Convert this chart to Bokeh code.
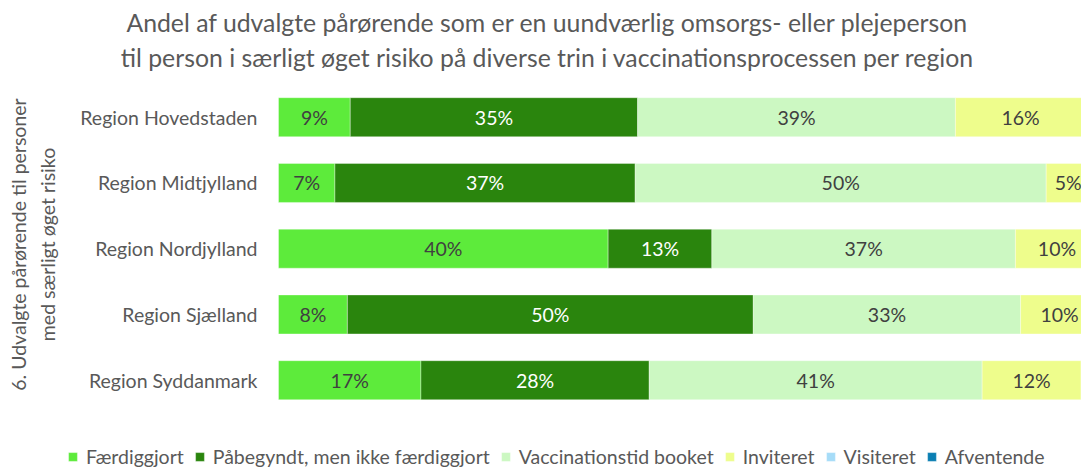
import numpy as np
from bokeh.plotting import figure
from bokeh.models import ColumnDataSource, Range1d, Label, Legend, LegendItem
from bokeh.core.properties import value
from bokeh.embed import file_html
from bokeh.resources import INLINE

regions = ["Region Hovedstaden", "Region Midtjylland", "Region Nordjylland",
           "Region Sjælland", "Region Syddanmark"]
stages = ["Færdiggjort", "Påbegyndt, men ikke færdiggjort", "Vaccinationstid booket",
          "Inviteret", "Visiteret", "Afventende"]
faerdiggjort = [8.75, 6.88, 40.2, 8.4, 17.37]
paabegyndt = [35.05, 36.62, 12.65, 49.5, 27.84]
booket = [38.75, 50.12, 37.02, 32.6, 40.6]
inviteret = [15.9, 5.37, 10.13, 9.5, 12.07]
visiteret = [1.2, 0.8, 0.0, 0.0, 1.7]
afventende = [0.35, 0.21, 0.0, 0.0, 0.42]

title_lines = ["Andel af udvalgte pårørende som er en uundværlig omsorgs- eller plejeperson",
               "til person i særligt øget risiko på diverse trin i vaccinationsprocessen per region"]
ylab = ["6. Udvalgte pårørende til personer", "med særligt øget risiko"]

series = [faerdiggjort, paabegyndt, booket, inviteret, visiteret, afventende]
colors = ["#5DEB3B", "#2A850D", "#CCF8C2", "#EEFD8C", "#A6DCF8", "#0B7FB3"]
label_colors = ["#404040", "#FFFFFF", "#404040", "#404040", "#404040", "#FFFFFF"]
keys = ["s0", "s1", "s2", "s3", "s4", "s5"]

FONT = "Lato"
TXT = "#595959"

W, H = 1081, 468
X0 = 278.0        # pixel of 0 %
PX_PER_PCT = 8.2
ROW0 = 116.7      # pixel centre of first row
ROW_STEP = 65.75
n = len(regions)

ypos = [n - 1 - i for i in range(n)]
y_top = (n - 1) + ROW0 / ROW_STEP
y_bot = (n - 1) - (H - ROW0) / ROW_STEP

data = {"y": ypos, "region": regions}
for k, s in zip(keys, series):
    data[k] = s
src = ColumnDataSource(data)

p = figure(width=W, height=H,
           x_range=Range1d(-X0 / PX_PER_PCT, (W - X0) / PX_PER_PCT),
           y_range=Range1d(y_bot, y_top),
           x_axis_type=None, y_axis_type=None,
           output_backend="svg", toolbar_location=None,
           min_border=0, min_border_left=0, min_border_right=0,
           min_border_top=0, min_border_bottom=0)
p.outline_line_color = None
p.grid.visible = False
p.background_fill_color = "white"

renderers = p.hbar_stack(keys, y="y", height=0.593, color=colors,
                         line_color="white", line_alpha=0.35, line_width=1, source=src)

# segment labels
lx, ly, lt, lc = [], [], [], []
for i in range(n):
    cum = 0.0
    for j, s in enumerate(series):
        v = s[i]
        if v >= 3:
            lx.append(cum + v / 2)
            ly.append(ypos[i])
            lt.append("%d%%" % int(v + 0.5))
            lc.append(label_colors[j])
        cum += v
lsrc = ColumnDataSource(dict(x=lx, y=ly, t=lt, c=lc))
p.text(x="x", y="y", text="t", text_color="c", source=lsrc, text_align="center",
       text_baseline="middle", text_font=value(FONT), text_font_size="19.5px")

# category labels (left of the 0 % baseline)
p.text(x=0, y="y", text="region", source=src, x_offset=-21, text_align="right",
       text_baseline="middle", text_font=value(FONT), text_font_size="19.5px",
       text_color=TXT)

for line, yy in zip(title_lines, [22, 57]):
    p.add_layout(Label(x=547, y=H - yy, x_units="screen", y_units="screen",
                       text=line, text_align="center", text_baseline="middle",
                       text_font=FONT, text_font_size="24.8px", text_color=TXT))

for line, xx in zip(ylab, [18, 47]):
    p.add_layout(Label(x=xx, y=H - 244, x_units="screen", y_units="screen",
                       text=line, angle=np.pi / 2, text_align="center", text_baseline="middle",
                       text_font=FONT, text_font_size="19.5px", text_color=TXT))

legend = Legend(items=[LegendItem(label=s, renderers=[r]) for s, r in zip(stages, renderers)],
                location=(67, 0), orientation="horizontal",
                label_text_font=FONT, label_text_font_size="19.5px", label_text_color=TXT,
                glyph_width=11, glyph_height=11, label_standoff=8, spacing=10,
                padding=0, margin=0, border_line_color=None, background_fill_alpha=0)
p.add_layout(legend, "center")

open("out.html", "w").write(file_html(p, INLINE))
